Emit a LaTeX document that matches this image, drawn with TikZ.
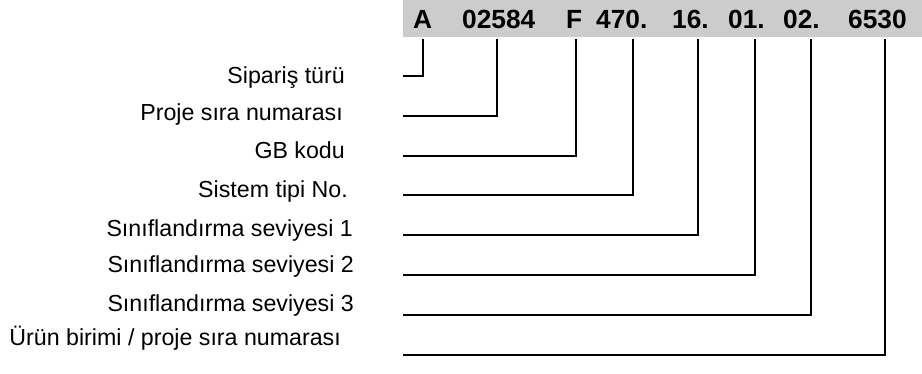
\documentclass[tikz,border=0pt]{standalone}
\usepackage{fontspec}
\setmainfont{Liberation Sans}
\begin{document}
\begin{tikzpicture}[x=1pt,y=-1pt,
  code/.style={anchor=base west,inner sep=0pt,font=\fontsize{26.3}{30}\selectfont\bfseries},
  lab/.style={anchor=base east,inner sep=0pt,font=\fontsize{23.2}{26}\selectfont},
  conn/.style={line width=1.8pt,line join=miter}]
\useasboundingbox (0,0) rectangle (922,374);
\fill[gray!40] (403,0) rectangle (922,37);
% code parts
\node[code] (cA) at (413,28.5) {A};
\node[code] (cB) at (462,28.5) {02584};
\node[code] (cC) at (566,28.5) {F};
\node[code] (cD) at (596,28.5) {470.};
\node[code] (cE) at (672,28.5) {16.};
\node[code] (cF) at (728,28.5) {01.};
\node[code] (cG) at (783,28.5) {02.};
\node[code] (cH) at (848,28.5) {6530};
% labels
\node[lab] (l1) at (345,84) {Sipariş türü};
\node[lab] (l2) at (343,121) {Proje sıra numarası};
\node[lab] (l3) at (345,159) {GB kodu};
\node[lab] (l4) at (348,198) {Sistem tipi No.};
\node[lab] (l5) at (353,237) {Sınıflandırma seviyesi 1};
\node[lab] (l6) at (354,273) {Sınıflandırma seviyesi 2};
\node[lab] (l7) at (354,312) {Sınıflandırma seviyesi 3};
\node[lab] (l8) at (341,345) {Ürün birimi / proje sıra numarası};
% connector ends
\coordinate (s1) at (403,76);
\coordinate (s2) at (403,116);
\coordinate (s3) at (403,156);
\coordinate (s4) at (403,195);
\coordinate (s5) at (403,235);
\coordinate (s6) at (403,275);
\coordinate (s7) at (403,315);
\coordinate (s8) at (403,355);
\coordinate (t1) at (423,39);
\coordinate (t2) at (497,39);
\coordinate (t3) at (576,39);
\coordinate (t4) at (633,39);
\coordinate (t5) at (698,39);
\coordinate (t6) at (755,39);
\coordinate (t7) at (811,39);
\coordinate (t8) at (885,39);
\foreach \i in {1,...,8}{\draw[conn] (s\i) -| (t\i);}
\end{tikzpicture}
\end{document}
